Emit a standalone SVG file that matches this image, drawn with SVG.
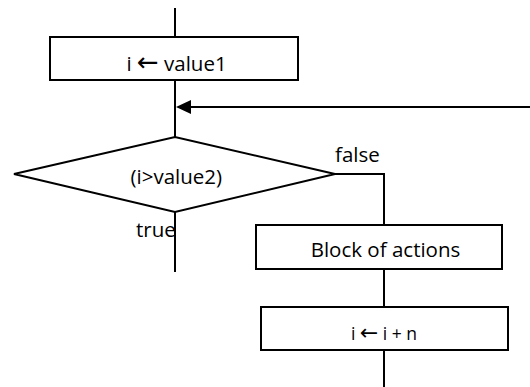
<svg xmlns="http://www.w3.org/2000/svg" width="530" height="387" viewBox="0 0 530 387">
<style>
.s{fill:#fff;stroke:#000;stroke-width:2}
.l{fill:none;stroke:#000;stroke-width:2}
text{font-family:"Open Sans","Liberation Sans",sans-serif;font-size:20.5px;fill:#000}
.c{text-anchor:middle}
.a{font-family:"DejaVu Sans",sans-serif;font-size:26px}
</style>
<g id="connectors">
<line class="l" x1="175" y1="8" x2="175" y2="37"/>
<line class="l" x1="175" y1="80" x2="175" y2="137"/>
<line class="l" x1="530" y1="107" x2="190" y2="107"/>
<path d="M191,100 L176,107 L191,114 z" fill="#000"/>
<polyline class="l" points="335,174 384,174 384,225"/>
<line class="l" x1="175" y1="212" x2="175" y2="272"/>
<line class="l" x1="384" y1="269" x2="384" y2="307"/>
<line class="l" x1="384" y1="350" x2="384" y2="387"/>
</g>
<g id="init">
<rect class="s" x="50" y="37" width="248" height="43"/>
<text class="c" x="176.5" y="71">i <tspan class="a">←</tspan> value1</text>
</g>
<g id="cond">
<polygon class="s" points="14,174 175,137 335,174 175,212"/>
<text class="c" x="176.3" y="183.5">(i&gt;value2)</text>
</g>
<text x="335" y="161.5">false</text>
<text x="136" y="237.3">true</text>
<g id="block">
<rect class="s" x="256" y="225" width="246" height="44"/>
<text class="c" x="385.5" y="257.3">Block of actions</text>
</g>
<g id="incr">
<rect class="s" x="261" y="307" width="247" height="43"/>
<text class="c" x="384" y="340" style="font-size:17.5px">i <tspan class="a" style="font-size:22px">←</tspan> i + n</text>
</g>
</svg>
